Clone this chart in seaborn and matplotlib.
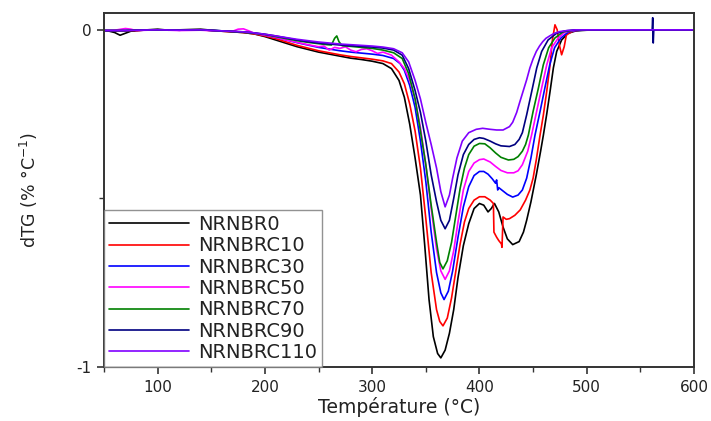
import numpy as np
import pandas as pd
import matplotlib
matplotlib.use("Agg")
import matplotlib.pyplot as plt
import seaborn as sns
from matplotlib.ticker import MultipleLocator, FixedLocator

# ---------------- data ----------------
series_names = ["NRNBR0", "NRNBRC10", "NRNBRC30", "NRNBRC50",
                "NRNBRC70", "NRNBRC90", "NRNBRC110"]
series_colors = ["#000000", "#ff0000", "#0000ff", "#ff00ff",
                 "#008000", "#000080", "#8000ff"]

t_nrnbr0 = [50, 55, 60, 65, 70, 75, 80, 90, 100, 110, 120, 130, 140, 150, 160, 170, 180, 190, 200, 210,
            220, 230, 240, 250, 260, 270, 280, 290, 300, 310, 318, 325, 330, 335, 340, 345, 349, 353, 357, 361,
            364, 368, 372, 376, 380, 385, 390, 395, 400, 404, 408, 411, 414, 418, 422, 426, 431, 437, 441, 444,
            448, 453, 457, 459.6, 462.7, 465.8, 468.9, 472, 476.6, 482.6, 490, 500, 520, 540, 560, 580, 600]
dtg_nrnbr0 = [-0.002, -0.004, -0.008, -0.016, -0.010, -0.004, -0.003, 0.000, 0.002, -0.001,
              0.000, 0.001, 0.002, -0.001, -0.004, -0.006, -0.008, -0.012, -0.020, -0.030,
              -0.040, -0.050, -0.058, -0.066, -0.072, -0.078, -0.084, -0.088, -0.093, -0.100,
              -0.115, -0.150, -0.200, -0.280, -0.380, -0.490, -0.640, -0.800, -0.910, -0.960,
              -0.973, -0.950, -0.900, -0.830, -0.735, -0.640, -0.575, -0.530, -0.515, -0.520,
              -0.540, -0.530, -0.515, -0.540, -0.585, -0.620, -0.637, -0.628, -0.600, -0.565,
              -0.510, -0.430, -0.360, -0.312, -0.250, -0.183, -0.113, -0.064, -0.030, -0.010,
              -0.003, -0.001, 0.000, 0.000, 0.000, 0.000, 0.000]

t_nrnbrc10 = [50, 60, 70, 80, 90, 100, 120, 140, 160, 180, 190, 200, 210, 220, 230, 240, 250, 260, 270, 280,
              290, 300, 310, 318, 325, 330, 335, 340, 345, 350, 355, 360, 363, 366, 370, 374, 378, 382, 386, 390,
              395, 400, 405, 410, 413, 413.5, 416, 418, 420.5, 421, 422, 425, 428, 433, 438, 443, 447, 450, 453, 456.5,
              459.6, 462.7, 465.8, 468, 470.4, 472.5, 474.5, 476.6, 479, 481, 487, 495, 600]
dtg_nrnbrc10 = [-0.002, -0.003, -0.003, -0.002, 0.000, 0.000, -0.001, 0.000, -0.004, -0.008,
                -0.012, -0.018, -0.026, -0.036, -0.046, -0.054, -0.062, -0.068, -0.074, -0.079,
                -0.083, -0.087, -0.092, -0.100, -0.125, -0.160, -0.220, -0.300, -0.410, -0.560,
                -0.720, -0.830, -0.865, -0.878, -0.855, -0.795, -0.715, -0.635, -0.570, -0.530,
                -0.505, -0.495, -0.495, -0.505, -0.515, -0.600, -0.615, -0.625, -0.635, -0.645,
                -0.555, -0.562, -0.560, -0.550, -0.534, -0.505, -0.475, -0.440, -0.385, -0.312,
                -0.252, -0.183, -0.104, -0.030, 0.015, 0.000, -0.045, -0.074, -0.050, -0.015,
                -0.004, 0.000, 0.000]

t_nrnbrc30 = [50, 60, 70, 80, 100, 120, 140, 160, 180, 190, 200, 210, 220, 230, 240, 250, 260, 270, 280, 290,
              300, 310, 320, 326, 330, 335, 340, 345, 350, 355, 360, 364, 367, 371, 375, 380, 385, 390, 395, 400,
              404, 408, 412, 415, 416, 417, 418, 422, 426, 431, 436, 440, 444, 448, 451.8, 456.5, 461, 465.5, 470, 476,
              483, 490, 500, 600]
dtg_nrnbrc30 = [-0.002, -0.002, -0.002, -0.001, 0.000, -0.001, 0.000, -0.003, -0.007, -0.010,
                -0.015, -0.022, -0.030, -0.038, -0.045, -0.052, -0.057, -0.062, -0.066, -0.069,
                -0.072, -0.076, -0.085, -0.100, -0.120, -0.165, -0.230, -0.330, -0.450, -0.600,
                -0.720, -0.780, -0.800, -0.775, -0.715, -0.615, -0.525, -0.465, -0.432, -0.420,
                -0.420, -0.428, -0.442, -0.455, -0.445, -0.475, -0.468, -0.478, -0.488, -0.496,
                -0.490, -0.475, -0.440, -0.380, -0.312, -0.242, -0.172, -0.104, -0.053, -0.024,
                -0.006, -0.002, 0.000, 0.000]

t_nrnbrc50 = [50, 60, 70, 75, 80, 90, 100, 120, 140, 160, 170, 175, 180, 185, 190, 200, 210, 220, 230, 240,
              250, 255, 260, 265, 270, 275, 280, 285, 290, 295, 300, 305, 310, 318, 325, 330, 335, 340, 345, 350,
              355, 360, 364, 368, 372, 376, 380, 385, 390, 395, 400, 404, 410, 415, 420, 426, 432, 436, 440, 445,
              448.6, 453.3, 458, 462.7, 467.3, 473.5, 480, 490, 500, 600]
dtg_nrnbrc50 = [-0.002, -0.001, 0.004, 0.002, -0.002, -0.001, 0.000, -0.002, -0.001, -0.004,
                -0.004, 0.002, 0.003, -0.003, -0.010, -0.016, -0.022, -0.030, -0.037, -0.044,
                -0.050, -0.048, -0.060, -0.052, -0.055, -0.050, -0.060, -0.065, -0.058, -0.056,
                -0.062, -0.070, -0.066, -0.075, -0.095, -0.115, -0.150, -0.205, -0.290, -0.400,
                -0.530, -0.650, -0.715, -0.740, -0.715, -0.655, -0.570, -0.475, -0.420, -0.395,
                -0.385, -0.383, -0.392, -0.405, -0.417, -0.424, -0.424, -0.418, -0.400, -0.360,
                -0.312, -0.242, -0.172, -0.104, -0.053, -0.024, -0.006, -0.001, 0.000, 0.000]

t_nrnbrc70 = [50, 60, 70, 80, 100, 120, 140, 160, 180, 190, 200, 210, 220, 230, 240, 250, 258, 262, 265, 267,
              269, 272, 280, 290, 300, 310, 320, 328, 334, 340, 345, 350, 355, 360, 363, 366, 370, 374, 378, 382,
              386, 390, 395, 400, 405, 410, 415, 420, 427, 432, 436, 440, 443, 445.6, 450, 455, 459.5, 464.5, 470.4, 478,
              488, 500, 600]
dtg_nrnbrc70 = [-0.002, -0.002, -0.002, -0.001, 0.000, -0.001, 0.000, -0.003, -0.007, -0.010,
                -0.014, -0.020, -0.026, -0.032, -0.037, -0.041, -0.044, -0.045, -0.025, -0.018,
                -0.035, -0.047, -0.049, -0.052, -0.055, -0.060, -0.068, -0.085, -0.130, -0.205,
                -0.300, -0.400, -0.520, -0.630, -0.690, -0.709, -0.685, -0.630, -0.550, -0.470,
                -0.410, -0.370, -0.345, -0.337, -0.338, -0.350, -0.365, -0.378, -0.386, -0.384,
                -0.376, -0.360, -0.340, -0.312, -0.242, -0.172, -0.104, -0.053, -0.024, -0.006,
                -0.001, 0.000, 0.000]

t_nrnbrc90 = [50, 60, 70, 80, 100, 120, 140, 160, 180, 190, 200, 210, 220, 230, 240, 250, 260, 270, 280, 290,
              300, 310, 320, 328, 334, 340, 345, 350, 355, 360, 364, 368, 372, 376, 380, 385, 390, 395, 400, 404,
              410, 415, 420, 428, 433, 437, 440, 444, 448.7, 453.4, 458, 464, 472, 480, 490, 500, 520, 540, 555,
              561, 561.5, 562, 562.5, 565, 580, 600]
dtg_nrnbrc90 = [-0.002, -0.002, -0.002, -0.001, 0.000, -0.001, 0.000, -0.003, -0.006, -0.009,
                -0.013, -0.018, -0.024, -0.030, -0.035, -0.039, -0.042, -0.045, -0.047, -0.049,
                -0.051, -0.054, -0.060, -0.075, -0.115, -0.180, -0.245, -0.330, -0.430, -0.510,
                -0.565, -0.590, -0.565, -0.500, -0.430, -0.370, -0.340, -0.325, -0.320, -0.322,
                -0.330, -0.338, -0.344, -0.346, -0.340, -0.325, -0.305, -0.252, -0.183, -0.113,
                -0.064, -0.030, -0.010, -0.003, 0.000, 0.000, 0.000, 0.000, 0.000,
                0.000, 0.036, -0.039, 0.000, 0.000, 0.000, 0.000]

t_nrnbrc110 = [50, 60, 70, 80, 100, 120, 140, 160, 180, 190, 200, 210, 220, 230, 240, 250, 260, 270, 280, 290,
               300, 310, 320, 328, 334, 340, 345, 350, 355, 360, 364, 368, 372, 375, 379, 384, 390, 397, 403, 410,
               416, 422, 428, 431, 434.7, 437.5, 440.6, 444, 447, 450, 453, 456, 459, 462, 466, 470, 475, 482,
               490, 600]
dtg_nrnbrc110 = [-0.002, -0.002, -0.002, -0.001, 0.000, -0.001, 0.000, -0.003, -0.006, -0.009,
                 -0.013, -0.018, -0.023, -0.028, -0.032, -0.036, -0.039, -0.042, -0.044, -0.046,
                 -0.048, -0.051, -0.056, -0.068, -0.095, -0.150, -0.205, -0.275, -0.340, -0.410,
                 -0.480, -0.525, -0.490, -0.440, -0.380, -0.330, -0.305, -0.295, -0.292, -0.295,
                 -0.297, -0.297, -0.287, -0.274, -0.245, -0.215, -0.183, -0.148, -0.113, -0.086,
                 -0.064, -0.048, -0.035, -0.025, -0.017, -0.010, -0.005, -0.002, 0.000, 0.000]

x_ticks = [100, 200, 300, 400, 500, 600]
y_ticks = [-1, 0]
y_tick_labels = ["-1", "0"]
x_label = "Température (°C)"
y_label = "dTG (% °C$^{-1}$)"

# ---------------- build long table ----------------
temps = [t_nrnbr0, t_nrnbrc10, t_nrnbrc30, t_nrnbrc50, t_nrnbrc70, t_nrnbrc90, t_nrnbrc110]
vals = [dtg_nrnbr0, dtg_nrnbrc10, dtg_nrnbrc30, dtg_nrnbrc50, dtg_nrnbrc70, dtg_nrnbrc90, dtg_nrnbrc110]
frames = []
for name, t, v in zip(series_names, temps, vals):
    frames.append(pd.DataFrame({"T": t, "dTG": v, "sample": name}))
df = pd.concat(frames, ignore_index=True)

# ---------------- plot ----------------
sns.set_theme(style="ticks")
plt.rcParams["font.family"] = ["DejaVu Sans"]
plt.rcParams["axes.unicode_minus"] = False

W, H = 711, 421
fig = plt.figure(figsize=(W / 100, H / 100), dpi=100)
ax = fig.add_axes([104 / W, (H - 367) / H, 590 / W, 354 / H])

sns.lineplot(data=df, x="T", y="dTG", hue="sample", hue_order=series_names,
             palette=series_colors, sort=False, estimator=None,
             linewidth=1.2, ax=ax)

ax.set_xlim(50, 600)
ax.set_ylim(-1, 0.05)
ax.xaxis.set_major_locator(FixedLocator(x_ticks))
ax.xaxis.set_minor_locator(MultipleLocator(50))
ax.yaxis.set_major_locator(FixedLocator(y_ticks))
ax.yaxis.set_minor_locator(FixedLocator([-0.5]))
ax.set_yticklabels(y_tick_labels)
ax.tick_params(axis="both", which="major", direction="out", length=5, width=1.2,
               labelsize=11, color="#333333", labelcolor="#222222", pad=4)
ax.tick_params(axis="both", which="minor", direction="out", length=3.5, width=1.0,
               color="#333333")
for sp in ax.spines.values():
    sp.set_visible(True)
    sp.set_linewidth(1.4)
    sp.set_color("#333333")

ax.set_xlabel(x_label, fontsize=13.5, color="#222222", labelpad=2)
ax.set_ylabel(y_label, fontsize=12.5, color="#222222", labelpad=26)

handles, labels = ax.get_legend_handles_labels()
for h in handles:
    h.set_linewidth(1.2)
leg = ax.legend(handles, labels, loc="lower left", bbox_to_anchor=(0, 0),
                borderaxespad=0, frameon=True, fancybox=False, edgecolor="#777777",
                fontsize=14, handlelength=4.1, handletextpad=0.5,
                labelspacing=0.12, borderpad=0.25)
leg.get_frame().set_linewidth(1.0)
for txt in leg.get_texts():
    txt.set_color("#222222")

fig.savefig("out.png", dpi=100)
